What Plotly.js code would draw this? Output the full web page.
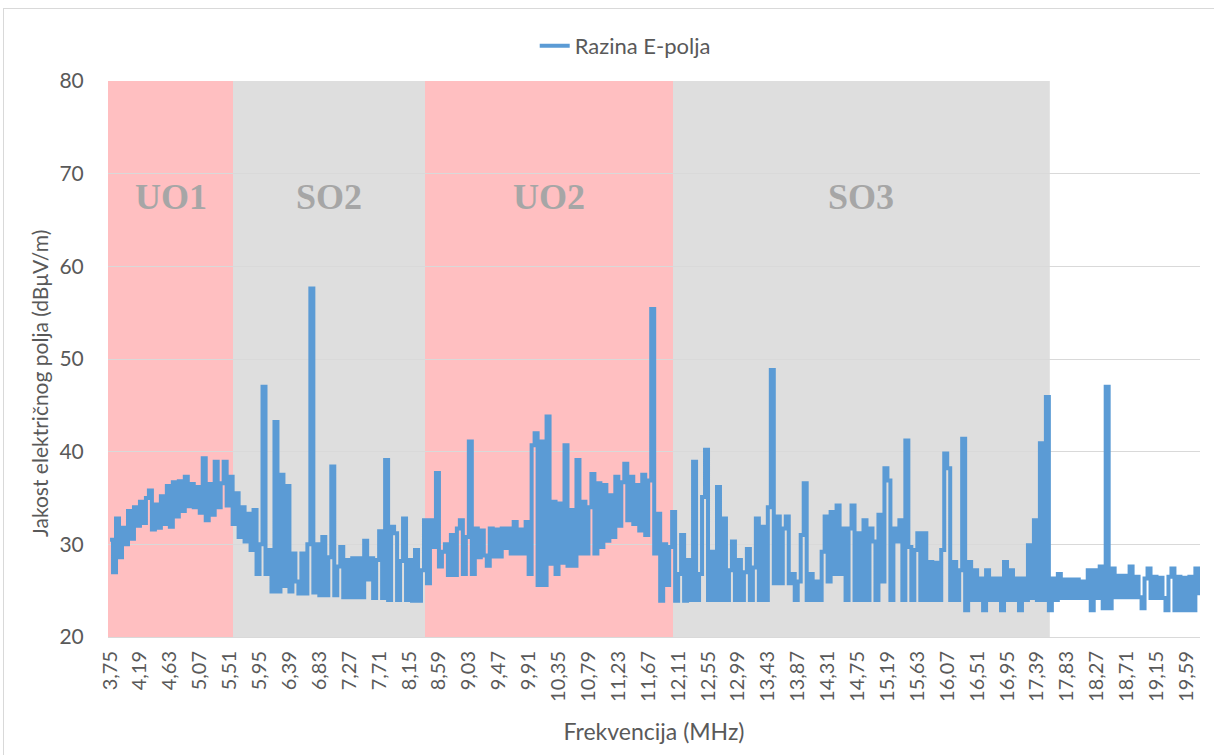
<!DOCTYPE html>
<html>
<head>
<meta charset="utf-8">
<script src="https://cdn.plot.ly/plotly-3.0.1.min.js"></script>
<style>
  html, body { margin: 0; padding: 0; background: #ffffff; }
  #wrap { position: relative; width: 1214px; height: 755px; }
  #chart { width: 1214px; height: 755px; }
  #frame { position: absolute; left: 3px; top: 8px; right: -2px; bottom: -2px;
           border-left: 1px solid #d9d9d9; border-top: 1px solid #d9d9d9; pointer-events: none; }
</style>
</head>
<body>
<div id="wrap"><div id="chart"></div><div id="frame"></div></div>
<script>
// Measurement sweep grid (MHz)
const FREQ_START = 3.75;
const FREQ_STEP = 0.044;

// E-field level (dBµV/m), one value per sweep step
const levels = [
  30.5, 27.0, 32.8, 28.6, 31.8, 30.0, 33.6, 30.6, 34.0, 32.0,
  34.6, 32.3, 35.0, 35.8, 31.6, 34.3, 31.8, 35.2, 32.2, 36.3,
  31.9, 36.7, 33.0, 36.8, 33.6, 37.3, 34.1, 36.5, 34.0, 36.2,
  33.4, 39.3, 32.6, 36.5, 33.2, 38.9, 34.0, 36.6, 38.9, 34.2,
  37.3, 32.2, 35.5, 30.8, 34.0, 30.3, 33.3, 29.4, 33.7, 26.8,
  30.0, 47.0, 26.8, 29.4, 24.9, 43.2, 24.9, 37.5, 25.5, 36.3,
  24.9, 29.0, 26.0, 24.7, 29.0, 24.7, 30.0, 57.6, 24.8, 30.0,
  24.5, 30.8, 24.5, 28.6, 38.4, 24.5, 27.6, 29.7, 24.3, 28.3,
  24.3, 28.5, 24.3, 28.5, 24.3, 30.4, 26.2, 28.5, 24.2, 28.3,
  31.4, 24.2, 39.1, 24.0, 31.9, 31.2, 24.0, 28.2, 32.8, 24.0,
  28.3, 23.9, 29.4, 23.9, 27.2, 32.6, 25.8, 32.6, 29.7, 37.7,
  27.6, 29.2, 30.0, 26.7, 31.0, 26.7, 31.7, 32.6, 26.8, 30.8,
  41.1, 26.8, 31.7, 28.6, 31.5, 28.8, 27.7, 31.7, 28.7, 31.6,
  28.7, 31.7, 29.6, 31.7, 29.0, 32.4, 29.0, 31.6, 29.0, 32.4,
  26.8, 40.7, 42.0, 25.6, 41.1, 25.6, 43.8, 27.9, 34.6, 26.8,
  34.4, 28.0, 40.7, 27.7, 33.7, 27.7, 39.1, 29.0, 34.6, 29.0,
  34.0, 37.6, 29.0, 36.6, 29.7, 36.4, 30.4, 35.3, 30.8, 37.3,
  32.0, 36.7, 38.7, 32.6, 37.3, 32.2, 36.4, 31.5, 37.5, 31.0,
  36.9, 55.4, 29.0, 33.3, 23.9, 30.0, 25.6, 29.7, 33.5, 23.9,
  26.8, 31.0, 23.9, 28.3, 24.0, 38.9, 24.0, 26.8, 35.1, 40.2,
  24.0, 29.2, 24.0, 36.2, 24.0, 32.8, 24.0, 27.2, 30.3, 24.0,
  28.3, 24.0, 27.0, 29.5, 24.0, 27.5, 32.8, 24.0, 31.9, 24.0,
  34.0, 48.8, 25.8, 33.0, 25.8, 31.7, 33.0, 25.8, 26.8, 24.0,
  26.0, 31.0, 36.6, 24.0, 26.8, 24.0, 26.0, 24.0, 29.2, 33.0,
  26.0, 33.5, 26.8, 34.2, 26.8, 31.7, 24.0, 31.7, 34.2, 24.0,
  31.2, 24.0, 32.6, 24.0, 31.7, 30.3, 24.0, 33.2, 26.0, 38.2,
  36.9, 24.0, 31.7, 30.3, 32.6, 24.0, 41.2, 29.7, 24.0, 29.4,
  31.2, 24.0, 31.2, 24.0, 28.1, 24.0, 28.0, 24.0, 29.4, 39.8,
  38.2, 24.0, 28.1, 24.0, 27.2, 41.4, 22.9, 28.1, 24.0, 27.2,
  24.0, 26.3, 22.9, 27.2, 24.0, 26.3, 24.0, 26.3, 22.9, 28.1,
  24.0, 27.2, 24.0, 26.3, 22.9, 26.3, 24.0, 29.9, 24.2, 32.6,
  24.0, 40.9, 24.0, 45.9, 22.9, 26.3, 24.0, 26.8, 24.2, 26.2,
  24.2, 26.2, 24.2, 26.2, 24.2, 26.0, 24.2, 27.2, 22.9, 27.2,
  24.2, 27.6, 23.1, 47.0, 23.1, 27.4, 24.3, 26.6, 24.3, 26.6,
  24.3, 27.6, 24.3, 26.5, 24.3, 23.1, 26.3, 27.4, 24.2, 26.5,
  24.2, 26.4, 24.2, 22.9, 26.5, 27.4, 22.9, 26.5, 22.9, 26.4,
  22.9, 26.5, 22.9, 27.4, 24.5
];

// Category tick labels shown on the x axis
const tickLabels = [
  '3,75','4,19','4,63','5,07','5,51','5,95','6,39','6,83','7,27','7,71',
  '8,15','8,59','9,03','9,47','9,91','10,35','10,79','11,23','11,67','12,11',
  '12,55','12,99','13,43','13,87','14,31','14,75','15,19','15,63','16,07','16,51',
  '16,95','17,39','17,83','18,27','18,71','19,15','19,59'
];

// Frequency bands (MHz)
const bandNames = ['UO1', 'SO2', 'UO2', 'SO3'];
const bandStart = [3.72, 5.56, 8.385, 12.035];
const bandEnd   = [5.56, 8.385, 12.035, 17.58];
const bandKind  = ['UO', 'SO', 'UO', 'SO'];

const freqs = levels.map((_, i) => FREQ_START + i * FREQ_STEP);
const tickVals = tickLabels.map(s => parseFloat(s.replace(',', '.')));

const FONT = 'Lato, "Open Sans", "DejaVu Sans", sans-serif';
const bandFill = { UO: '#ffbfc1', SO: '#dedede' };

const shapes = bandNames.map((n, k) => ({
  type: 'rect', xref: 'x', yref: 'paper',
  x0: bandStart[k], x1: bandEnd[k], y0: 0, y1: 1,
  fillcolor: bandFill[bandKind[k]], line: { width: 0 }, layer: 'below'
}));

const annotations = bandNames.map((n, k) => ({
  text: n, xref: 'x', yref: 'y',
  x: (bandStart[k] + bandEnd[k]) / 2, y: 67.5,
  showarrow: false,
  font: { family: '"Liberation Serif", "DejaVu Serif", serif', size: 36, color: '#a6a6a6', weight: 'bold' }
}));

// Y-axis title (placed like the original, slightly below the axis centre)
annotations.push({
  text: 'Jakost električnog polja (dBμV/m)',
  xref: 'paper', yref: 'paper', x: (40 - 108) / 1092, y: (637 - 384) / 556,
  xanchor: 'center', yanchor: 'middle', textangle: -90, showarrow: false,
  font: { family: FONT, size: 21, color: '#595959' }
});

const trace = {
  x: freqs, y: levels, type: 'scatter', mode: 'lines',
  name: 'Razina E-polja',
  line: { color: '#5b9bd5', width: 4, shape: 'hv' },
  hoverinfo: 'x+y'
};

const layout = {
  width: 1214, height: 755,
  margin: { l: 108, r: 14, t: 81, b: 118 },
  paper_bgcolor: '#ffffff', plot_bgcolor: '#ffffff',
  font: { family: FONT, color: '#595959', size: 18 },
  showlegend: true,
  legend: {
    orientation: 'h', xref: 'container', yref: 'container',
    x: 0.515, xanchor: 'center', y: 1 - 46 / 755, yanchor: 'middle',
    font: { family: FONT, size: 22, color: '#595959' },
    bgcolor: 'rgba(0,0,0,0)'
  },
  xaxis: {
    range: [3.72, 19.79],
    tickmode: 'array', tickvals: tickVals, ticktext: tickLabels,
    tickangle: -90, tickfont: { family: FONT, size: 20, color: '#595959' },
    ticks: 'outside', ticklen: 5, tickcolor: 'rgba(0,0,0,0)',
    showgrid: false, zeroline: false,
    showline: true, linecolor: '#d9d9d9', linewidth: 1,
    title: { text: 'Frekvencija (MHz)', font: { family: FONT, size: 23, color: '#595959' }, standoff: 22 }
  },
  yaxis: {
    range: [20, 80], dtick: 10, tick0: 20,
    tickfont: { family: FONT, size: 21, color: '#595959' },
    ticks: 'outside', ticklen: 19, tickcolor: 'rgba(0,0,0,0)',
    showgrid: true, gridcolor: '#d9d9d9', gridwidth: 1,
    zeroline: false, showline: false
  },
  shapes: shapes,
  annotations: annotations
};

Plotly.newPlot('chart', [trace], layout, { displayModeBar: false, responsive: false });
</script>
</body>
</html>
